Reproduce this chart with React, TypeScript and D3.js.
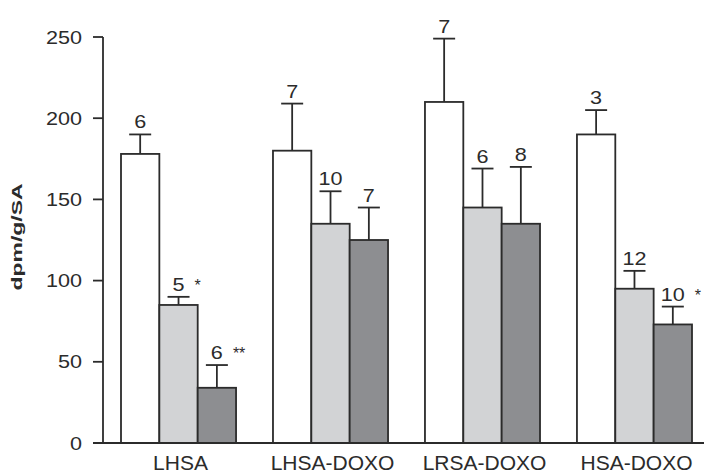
import React from "react";
import * as d3 from "d3";

// groups along the x axis
const groups = ["LHSA", "LHSA-DOXO", "LRSA-DOXO", "HSA-DOXO"];
const series = ["white", "light", "dark"];

// bar heights (dpm/g/SA)
const whiteMeans = [178, 180, 210, 190];
const lightMeans = [85, 135, 145, 95];
const darkMeans = [34, 125, 135, 73];

// upper error bar lengths
const whiteErr = [12, 29, 39, 15];
const lightErr = [5, 20, 24, 11];
const darkErr = [14, 20, 35, 11];

// n printed above each bar
const whiteN = ["6", "7", "7", "3"];
const lightN = ["5", "10", "6", "12"];
const darkN = ["6", "7", "8", "10"];

// significance marks
const lightSig = ["*", "", "", ""];
const darkSig = ["**", "", "", "*"];

const yTicks = [0, 50, 100, 150, 200, 250];

const fills: Record<string, string> = {
  white: "#ffffff",
  light: "#d2d3d5",
  dark: "#8d8e91",
};

const ink = "#2b2b2b";
const font = "'Liberation Sans', Arial, Helvetica, sans-serif";

export default function App() {
  const width = 704,
    height = 475;

  const y = d3.scaleLinear().domain([0, 250]).range([443, 37]);
  const x0 = d3.scaleBand().domain(groups).range([121, 692]).paddingInner(0.243).paddingOuter(0);
  const x1 = d3.scaleBand().domain(series).range([0, x0.bandwidth()]).padding(0);

  const table = [
    { key: "white", means: whiteMeans, err: whiteErr, n: whiteN, sig: ["", "", "", ""] },
    { key: "light", means: lightMeans, err: lightErr, n: lightN, sig: lightSig },
    { key: "dark", means: darkMeans, err: darkErr, n: darkN, sig: darkSig },
  ];

  const axisX = 103;
  const capHalf = 11;

  return (
    <svg
      width={width}
      height={height}
      style={{ position: "absolute", left: 0, top: 0, background: "#fff" }}
      fontFamily={font}
    >
      {/* y label */}
      <text
        transform="translate(22,237) rotate(-90)"
        textAnchor="middle"
        fontSize={15}
        fontWeight="bold"
        fill={ink}
        textLength={107}
        lengthAdjust="spacingAndGlyphs"
      >
        dpm/g/SA
      </text>

      {/* y axis */}
      <line x1={axisX} x2={axisX} y1={y(250)} y2={y(0)} stroke={ink} strokeWidth={1.8} />
      {yTicks.map((t) => (
        <g key={t}>
          <line x1={axisX - 10} x2={axisX} y1={y(t)} y2={y(t)} stroke={ink} strokeWidth={1.8} />
          <text
            transform={`translate(82,${y(t) + 6.5}) scale(1.2,1)`}
            textAnchor="end"
            fontSize={18}
            fill={ink}
          >
            {t}
          </text>
        </g>
      ))}

      {/* bars */}
      {groups.map((g, gi) => (
        <g key={g} transform={`translate(${x0(g)},0)`}>
          {table.map((s) => {
            const bx = x1(s.key)!;
            const bw = x1.bandwidth();
            const cx = bx + bw / 2;
            const top = y(s.means[gi]);
            const errTop = y(s.means[gi] + s.err[gi]);
            const label = s.n[gi];
            const half = label.length * 6;
            return (
              <g key={s.key}>
                <line x1={cx} x2={cx} y1={top} y2={errTop} stroke={ink} strokeWidth={1.8} />
                <line x1={cx - capHalf} x2={cx + capHalf} y1={errTop} y2={errTop} stroke={ink} strokeWidth={1.8} />
                <rect
                  x={bx}
                  y={top}
                  width={bw}
                  height={y(0) - top}
                  fill={fills[s.key]}
                  stroke={ink}
                  strokeWidth={1.8}
                />
                <text
                  transform={`translate(${cx},${errTop - 6}) scale(1.2,1)`}
                  textAnchor="middle"
                  fontSize={18}
                  fill={ink}
                >
                  {label}
                </text>
                {s.sig[gi] && (
                  <text x={cx + half + 10} y={errTop - 6} fontSize={16} fill={ink}>
                    {s.sig[gi]}
                  </text>
                )}
              </g>
            );
          })}
          <text
            x={x0.bandwidth() / 2 + 2}
            y={470}
            textAnchor="middle"
            fontSize={21}
            fill={ink}
          >
            {g}
          </text>
        </g>
      ))}

      {/* x axis */}
      <line x1={axisX - 10} x2={width} y1={y(0)} y2={y(0)} stroke={ink} strokeWidth={1.8} />
    </svg>
  );
}
